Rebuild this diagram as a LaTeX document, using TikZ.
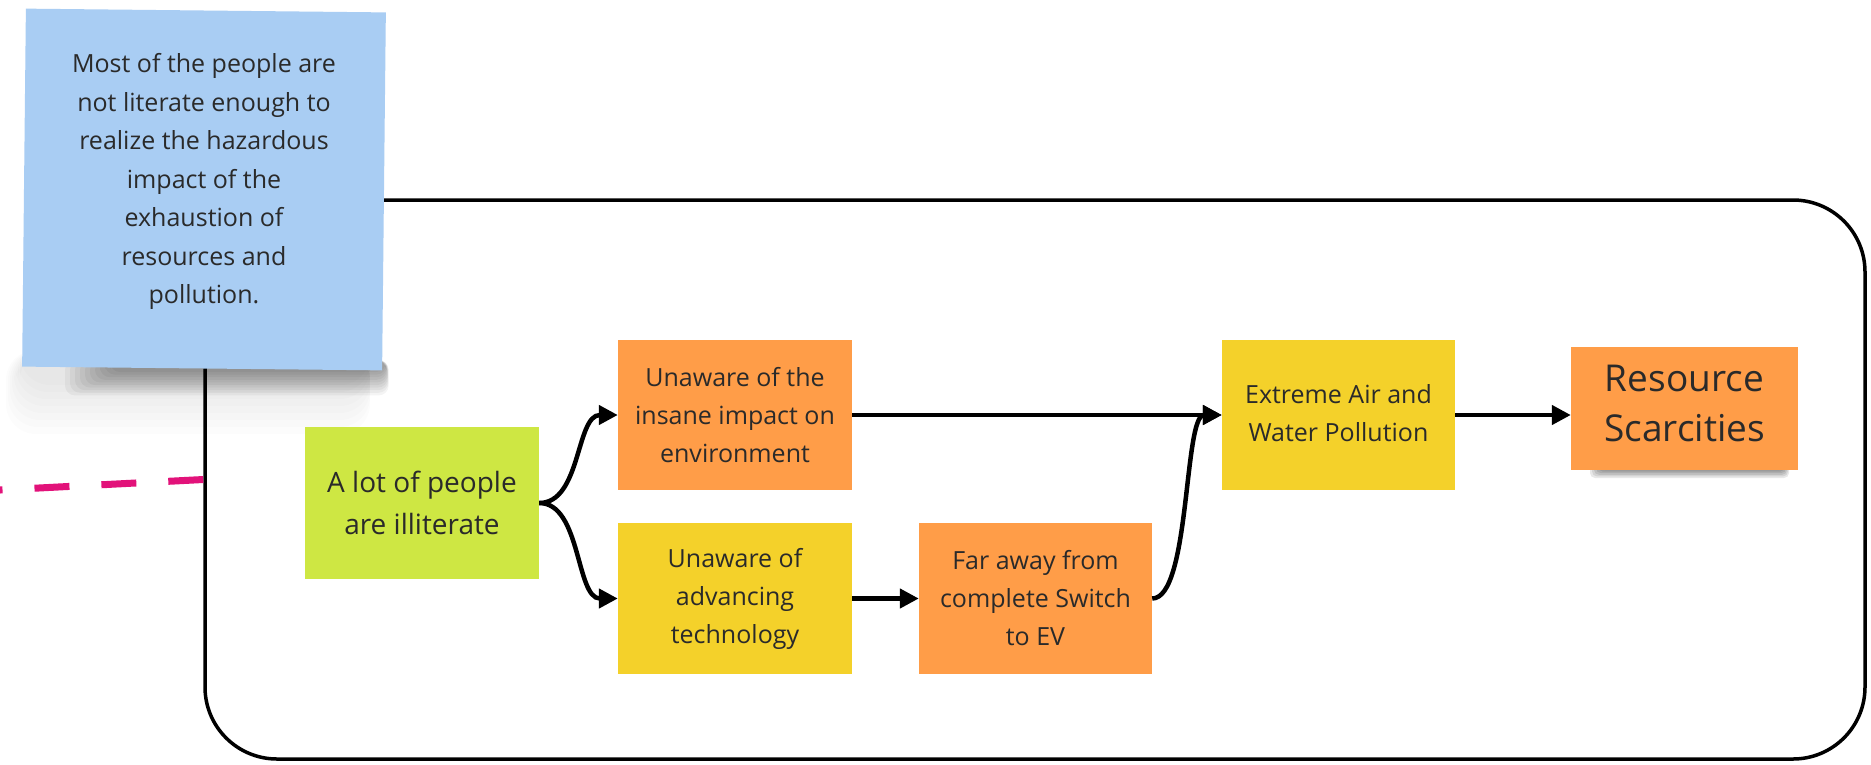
\documentclass[tikz,border=0pt]{standalone}
\usepackage{fontspec}
\setmainfont{Open Sans}
\usetikzlibrary{arrows.meta}
\definecolor{noteblue}{HTML}{A9CDF3}
\definecolor{limegreen}{HTML}{CEE743}
\definecolor{stickyorange}{HTML}{FF9D48}
\definecolor{stickyyellow}{HTML}{F4D12A}
\definecolor{dashmagenta}{HTML}{E2127A}
\definecolor{txt}{HTML}{2A2A2A}
\begin{document}
\begin{tikzpicture}[x=1pt,y=-1pt,
  stickybox/.style={inner sep=0pt},
  stickytext/.style={inner sep=0pt, align=center, text=txt, font=\fontsize{25}{38}\selectfont},
  flow/.style={line width=4.5pt, -{Triangle[length=19pt,width=19pt]}},
  shade layer/.style={fill=black, opacity=0.035, rounded corners=14pt},
]
\useasboundingbox (0,0) rectangle (1871,764);
\fill[white] (0,0) rectangle (1871,764);

% frame
\node[draw, line width=3.5pt, rounded corners=72pt, minimum width=1660pt, minimum height=559pt, inner sep=0pt] (frame) at (1035,479.5) {};

% dashed connector
\coordinate (dstart) at (0,490);
\draw[dashmagenta, line width=7pt, dash pattern=on 35pt off 32pt] (frame.west) -- (dstart);

% shadow of the note: faint haze, then darker band under the edge
\foreach \i in {0,...,7}
  \fill[shade layer, opacity=0.012, rounded corners=30pt] (20-\i*2,350) rectangle (370,385+\i*7);
\foreach \i in {0,...,9}
  \fill[shade layer, opacity=0.045, rounded corners=10pt] (110-\i*5,360) rectangle (386+\i*0.3,372+\i*2.6);

% note
\node[stickybox, fill=noteblue, minimum width=360pt, minimum height=358pt, rotate=-0.6] (note) at (204,189.5) {};
\node[stickytext, font=\fontsize{25}{38.5}\selectfont] (notetext) at ([yshift=8pt]note.center)
  {Most of the people are\\not literate enough to\\realize the hazardous\\impact of the\\exhaustion of\\resources and\\pollution.};

% shadow of resource note
\foreach \i in {0,...,5}
  \fill[shade layer, opacity=0.09, rounded corners=5pt] (1600-\i*2,455) rectangle (1784+\i*1,470+\i*1.6);

% stickies
\node[stickybox, fill=limegreen, minimum width=234pt, minimum height=152pt] (green) at (422,503) {};
\node[stickytext, font=\fontsize{28}{42}\selectfont] (greentext) at (green.center) {A lot of people\\are illiterate};
\node[stickybox, fill=stickyorange, minimum width=234pt, minimum height=150pt] (env) at (735,415) {};
\node[stickytext] (envtext) at (env.center) {Unaware of the\\insane impact on\\environment};
\node[stickybox, fill=stickyyellow, minimum width=234pt, minimum height=151pt] (tech) at (735,598.5) {};
\node[stickytext] (techtext) at (tech.center) {Unaware of\\advancing\\technology};
\node[stickybox, fill=stickyorange, minimum width=233pt, minimum height=151pt] (far) at (1035.5,598.5) {};
\node[stickytext] (fartext) at (far.center) {Far away from\\complete Switch\\to EV};
\node[stickybox, fill=stickyyellow, minimum width=233pt, minimum height=150pt] (poll) at (1338.5,415) {};
\node[stickytext] (polltext) at ([yshift=2pt]poll.center) {Extreme Air and\\Water Pollution};
\node[stickybox, fill=stickyorange, minimum width=227pt, minimum height=123pt] (res) at (1684.5,408.5) {};
\node[stickytext, font=\fontsize{37}{50}\selectfont] (restext) at ([yshift=5pt]res.center) {Resource\\Scarcities};

% connectors
\draw[flow] (green.east) .. controls +(42,0) and +(-42,0) .. (env.west);
\draw[flow] (green.east) .. controls +(42,0) and +(-42,0) .. (tech.west);
\draw[flow] (env.east) -- (poll.west);
\draw[flow] (tech.east) -- (far.west);
\draw[flow] (far.east) .. controls +(38,0) and +(-38,0) .. (poll.west);
\draw[flow] (poll.east) -- (poll.east -| res.west);
\end{tikzpicture}
\end{document}
